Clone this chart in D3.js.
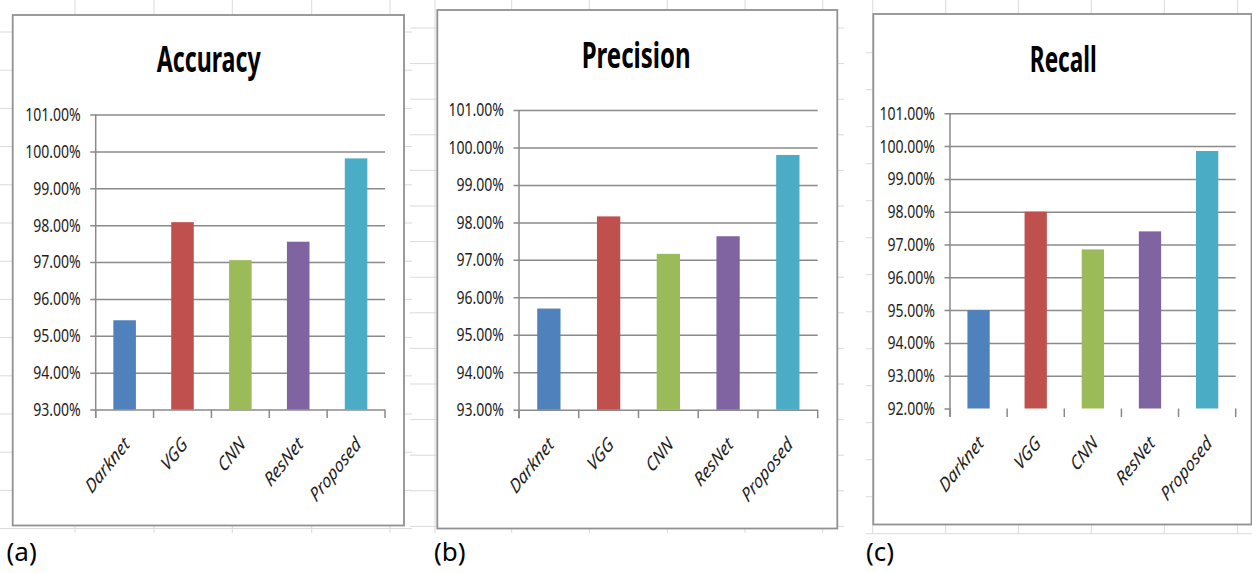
<!DOCTYPE html>
<html>
<head>
<meta charset="utf-8">
<script src="https://cdn.jsdelivr.net/npm/d3@7"></script>
<style>
  html, body { margin: 0; padding: 0; background: #fff; }
  svg { display: block; }
</style>
</head>
<body>
<script>
// ---------- data ----------
const categories = ["Darknet", "VGG", "CNN", "ResNet", "Proposed"];
const accuracy  = [95.42, 98.08, 97.05, 97.55, 99.81];
const precision = [95.70, 98.16, 97.16, 97.63, 99.80];
const recall    = [95.00, 98.00, 96.85, 97.40, 99.85];
const ticks93to101 = [93, 94, 95, 96, 97, 98, 99, 100, 101];
const ticks92to101 = [92, 93, 94, 95, 96, 97, 98, 99, 100, 101];
const titles = ["Accuracy", "Precision", "Recall"];
const panelLetters = ["(a)", "(b)", "(c)"];
const barColors = ["#4F81BD", "#C0504D", "#9BBB59", "#8064A2", "#4BACC6"];

// ---------- layout (positions only) ----------
const panels = [
  { values: accuracy, ticks: ticks93to101, title: titles[0], letter: panelLetters[0],
    box: [12.7, 15, 404, 525.5], x0: 95.7, x1: 385, yTop: 114.5, yBottom: 409.5,
    titleX: 208.7, titleY: 72, titleW: 104, letterX: 6.5, baseline: true,
    sheetCols: [75, 154, 232.3, 311.7, 390], sheetX: [0, 412], rowStart: 32, rowStep: 38.2 },
  { values: precision, ticks: ticks93to101, title: titles[1], letter: panelLetters[1],
    box: [437.3, 10, 837.3, 528.5], x0: 519, x1: 817.7, yTop: 110, yBottom: 409.7,
    titleX: 636.2, titleY: 67.5, titleW: 109, letterX: 434, baseline: true,
    sheetCols: [435, 511.7, 589.3, 667.3, 745, 822.7], sheetX: [410, 844], rowStart: 28, rowStep: 35.6 },
  { values: recall, ticks: ticks92to101, title: titles[2], letter: panelLetters[2],
    box: [873.3, 14, 1251.5, 524.5], x0: 950, x1: 1235.7, yTop: 113.3, yBottom: 408.5,
    titleX: 1063.3, titleY: 71.5, titleW: 67, letterX: 866, baseline: false,
    sheetCols: [872.7, 945.7, 1018.3, 1091.3, 1164.3, 1237.7], sheetX: [866, 1252], rowStart: 52.7, rowStep: 37 }
];

const W = 1252, H = 573;
const svg = d3.select("body").append("svg").attr("width", W).attr("height", H);
svg.append("rect").attr("width", W).attr("height", H).attr("fill", "#fff");

const sheetBottom = 533;
const gridColor = "#8a8a8a";
const squeeze = 0.78;

panels.forEach(p => {
  // faint spreadsheet cell grid behind the chart
  const sheet = svg.append("g").attr("stroke", "#dadada").attr("stroke-width", 1);
  p.sheetCols.forEach(cx => sheet.append("line")
    .attr("x1", cx).attr("x2", cx).attr("y1", 0).attr("y2", sheetBottom));
  d3.range(p.rowStart, sheetBottom + 1, p.rowStep).forEach(ry => sheet.append("line")
    .attr("x1", p.sheetX[0]).attr("x2", p.sheetX[1]).attr("y1", ry).attr("y2", ry));

  // chart box
  const [bx0, by0, bx1, by1] = p.box;
  svg.append("rect").attr("x", bx0).attr("y", by0)
    .attr("width", bx1 - bx0).attr("height", by1 - by0)
    .attr("fill", "#fff").attr("stroke", "#919191").attr("stroke-width", 1.8);

  const x = d3.scaleBand().domain(categories).range([p.x0, p.x1])
    .paddingInner(0.61).paddingOuter(0.305);
  const y = d3.scaleLinear().domain([p.ticks[0], p.ticks[p.ticks.length - 1]])
    .range([p.yBottom, p.yTop]);

  const g = svg.append("g");

  // horizontal gridlines + outward ticks via axis
  const yAxis = d3.axisLeft(y).tickValues(p.ticks).tickFormat("")
    .tickSizeInner(-(p.x1 - p.x0)).tickSizeOuter(0);
  const ya = g.append("g").attr("transform", `translate(${p.x0},0)`).call(yAxis);
  ya.select(".domain").remove();
  ya.selectAll(".tick line").attr("x1", -5.5).attr("stroke", gridColor).attr("stroke-width", 1.5)
    .attr("x2", (d) => (!p.baseline && d === p.ticks[0]) ? 0 : (p.x1 - p.x0));

  // tick labels
  p.ticks.forEach(t => {
    g.append("text")
      .attr("transform", `translate(${p.x0 - 15},${y(t)}) scale(${squeeze},1)`)
      .attr("text-anchor", "end").attr("dy", "0.36em")
      .attr("font-family", "'Noto Sans', sans-serif").attr("font-size", 18)
      .attr("fill", "#1e1e1e")
      .text(t.toFixed(2) + "%");
  });

  // bars
  g.selectAll("rect.bar").data(p.values).enter().append("rect")
    .attr("class", "bar")
    .attr("x", (d, i) => x(categories[i]))
    .attr("y", d => y(d))
    .attr("width", x.bandwidth())
    .attr("height", d => y(p.ticks[0]) - y(d))
    .attr("fill", (d, i) => barColors[i]);

  // y axis line
  g.append("line").attr("x1", p.x0).attr("x2", p.x0)
    .attr("y1", p.yTop).attr("y2", p.yBottom + 8.5)
    .attr("stroke", gridColor).attr("stroke-width", 1.5);

  // x tick marks at category boundaries
  d3.range(categories.length + 1).forEach(i => {
    const tx = p.x0 + i * x.step();
    g.append("line").attr("x1", tx).attr("x2", tx)
      .attr("y1", p.yBottom).attr("y2", p.yBottom + 8.5)
      .attr("stroke", gridColor).attr("stroke-width", 1.5);
  });

  // rotated category labels
  categories.forEach(c => {
    const ex = x(c) + x.bandwidth() / 2 + 6;
    const ey = p.yBottom + 36;
    g.append("text")
      .attr("transform", `translate(${ex},${ey}) scale(0.8,1) rotate(-45)`)
      .attr("text-anchor", "end")
      .attr("font-family", "'Noto Sans', sans-serif").attr("font-style", "italic")
      .attr("font-size", 19.5).attr("fill", "#1e1e1e")
      .text(c);
  });

  // title
  svg.append("text")
    .attr("x", p.titleX).attr("y", p.titleY)
    .attr("text-anchor", "middle")
    .attr("font-family", "'Noto Sans', sans-serif").attr("font-weight", "bold")
    .attr("font-size", 35).attr("fill", "#000")
    .attr("textLength", p.titleW).attr("lengthAdjust", "spacingAndGlyphs")
    .text(p.title);

  // panel letter
  svg.append("text")
    .attr("x", p.letterX).attr("y", 561)
    .attr("font-family", "'Noto Sans', sans-serif").attr("font-size", 26)
    .attr("fill", "#000")
    .text(p.letter);
});
</script>
</body>
</html>
